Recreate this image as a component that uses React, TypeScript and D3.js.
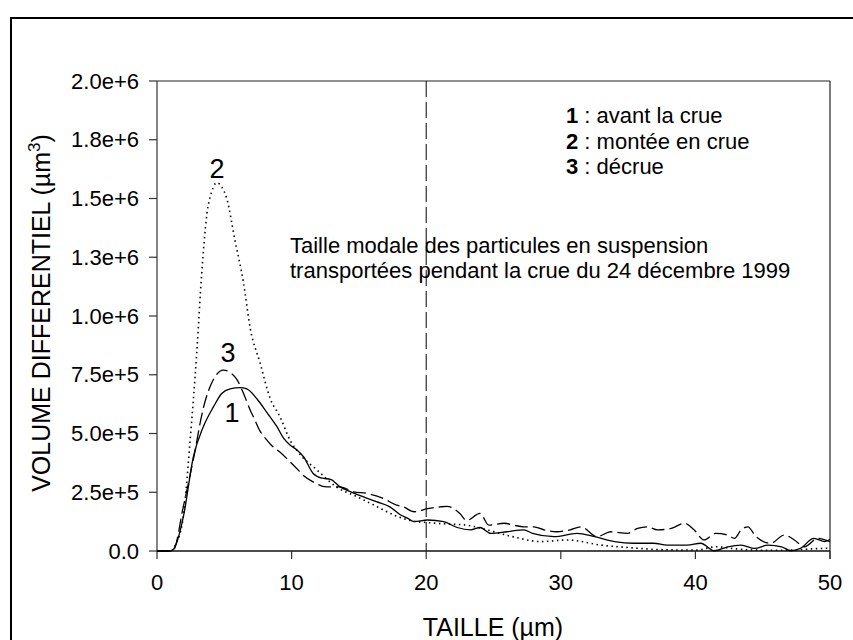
import React from 'react';
import * as d3 from 'd3';

// ---- data (values in millions of µm³) ----
const UNIT = 1e6;
const xTicks = [0, 10, 20, 30, 40, 50];
const yTicks = [0, 0.25, 0.5, 0.75, 1.0, 1.25, 1.5, 1.75, 2.0];
const yTickLabels = ['0.0', '2.5e+5', '5.0e+5', '7.5e+5', '1.0e+6', '1.3e+6', '1.5e+6', '1.8e+6', '2.0e+6'];
const modalSize = 20;

// 1 : avant la crue (solid)
const avantCrue: [number, number][] = [
  [0, 0], [1.0, 0], [1.34, 0.018], [1.96, 0.146], [2.7, 0.40], [3.45, 0.53], [4.19, 0.613], [4.81, 0.67],
  [5.43, 0.69], [6.18, 0.695], [6.67, 0.69], [7.42, 0.648], [8.16, 0.59], [8.9, 0.53], [9.4, 0.48], [9.9, 0.45],
  [10.4, 0.43], [10.9, 0.40], [11.6, 0.33], [12.25, 0.31], [12.9, 0.305], [13.6, 0.273], [14.4, 0.252], [15.35, 0.23],
  [16.3, 0.21], [17.3, 0.188], [18.1, 0.153], [18.6, 0.14], [19.1, 0.125], [20.1, 0.132], [21.3, 0.125], [22.3, 0.10],
  [23.3, 0.09], [24.0, 0.10], [24.8, 0.075], [26.0, 0.082], [27.25, 0.09], [27.9, 0.075], [29.5, 0.061], [31.2, 0.075],
  [32.5, 0.061], [34.0, 0.04], [35.4, 0.033], [36.9, 0.033], [37.9, 0.025], [39.4, 0.025], [40.4, 0.033], [41.4, 0.001],
  [42.4, 0.018], [43.4, 0.025], [44.4, 0.011], [45.4, 0.025], [46.4, 0.018], [47.1, 0.001], [47.8, 0.011], [48.8, 0.054],
  [49.6, 0.04], [50, 0.05],
];

// 2 : montée en crue (dotted)
const monteeCrue: [number, number][] = [
  [0, 0], [1.0, 0], [1.4, 0.03], [1.95, 0.144], [2.46, 0.47], [2.95, 0.84], [3.32, 1.18], [3.7, 1.43], [4.07, 1.53],
  [4.44, 1.567], [4.8, 1.55], [5.18, 1.50], [5.8, 1.32], [6.43, 1.14], [6.92, 0.95], [7.66, 0.80], [8.4, 0.65],
  [9.15, 0.57], [9.9, 0.47], [10.5, 0.42], [11.9, 0.344], [13.4, 0.27], [14.9, 0.23], [16.3, 0.19], [17.6, 0.153],
  [18.8, 0.13], [20.3, 0.12], [21.5, 0.115], [23.0, 0.11], [24.5, 0.09], [26.5, 0.06], [28.5, 0.04], [30.5, 0.047],
  [33, 0.025], [35.4, 0.013], [36.6, 0.008], [38, 0.005], [40, 0.004], [41.6, 0.018], [42.8, 0.01], [45.3, 0.003],
  [47, 0.004], [49, 0.01], [50, 0.012],
];

// 3 : décrue (dashed)
const decrue: [number, number][] = [
  [0, 0], [1.0, 0], [1.22, 0.004], [1.96, 0.19], [2.7, 0.39], [3.45, 0.61], [4.19, 0.73], [4.93, 0.77], [5.43, 0.76],
  [5.93, 0.73], [6.43, 0.67], [6.92, 0.60], [7.17, 0.57], [7.66, 0.51], [8.04, 0.48], [8.5, 0.45], [9.15, 0.42],
  [9.77, 0.386], [10.5, 0.344], [10.9, 0.32], [11.6, 0.294], [12.6, 0.273], [13.6, 0.273], [14.6, 0.252], [15.6, 0.245],
  [16.8, 0.224], [17.8, 0.195], [18.3, 0.188], [19.1, 0.167], [20.1, 0.18], [21.05, 0.188], [21.55, 0.19], [22.5, 0.16],
  [23.0, 0.13], [24.0, 0.16], [24.65, 0.11], [25.8, 0.118], [26.5, 0.11], [27.25, 0.103], [28, 0.103], [28.75, 0.09],
  [29.7, 0.082], [30.7, 0.09], [31.5, 0.103], [32.7, 0.061], [33.7, 0.082], [34.95, 0.075], [35.7, 0.096], [36.4, 0.103],
  [37.2, 0.09], [38.2, 0.096], [39.2, 0.118], [39.9, 0.09], [40.65, 0.047], [41.5, 0.075], [42.4, 0.068], [42.9, 0.054],
  [43.4, 0.09], [43.9, 0.103], [44.5, 0.061], [45.6, 0.033], [46.6, 0.068], [47.35, 0.047], [48.1, 0.018], [49.1, 0.054],
  [50, 0.04],
];

const legendItems = [
  { num: '1', text: ' : avant la crue' },
  { num: '2', text: ' : montée en crue' },
  { num: '3', text: ' : décrue' },
];
const annotationLines = [
  'Taille modale des particules en suspension',
  'transportées pendant la crue du 24 décembre 1999',
];

const FONT = 'Arial, "Liberation Sans", Helvetica, sans-serif';

export default function App() {
  const W = 853, H = 640;
  const x = d3.scaleLinear().domain([0, 50]).range([157, 830]);
  const y = d3.scaleLinear().domain([0, 2.0 * UNIT]).range([551, 81]);

  const line = d3
    .line<[number, number]>()
    .x((d) => x(d[0]))
    .y((d) => y(d[1] * UNIT))
    .curve(d3.curveMonotoneX);

  const [x0, x1] = x.range();
  const [y0, y1] = y.range();

  return (
    <svg width={W} height={H} style={{ position: 'absolute', left: 0, top: 0, background: '#fff' }} fontFamily={FONT}>
      {/* outer frame */}
      <rect x={11} y={18} width={W + 20} height={H + 20} fill="none" stroke="#000" strokeWidth={2} />

      {/* plot frame: top and right */}
      <line x1={x0} x2={x1} y1={y1} y2={y1} stroke="#222" strokeWidth={1.2} />
      <line x1={x1} x2={x1} y1={y1} y2={y0 + 8} stroke="#222" strokeWidth={1.2} />

      {/* modal size vertical dashed line */}
      <line x1={x(modalSize)} x2={x(modalSize)} y1={y1} y2={y0} stroke="#000" strokeWidth={1} strokeDasharray="16,5" />

      {/* axes */}
      <line x1={x0} x2={x0} y1={y1} y2={y0} stroke="#333" strokeWidth={1.2} />
      <line x1={x0} x2={x1} y1={y0} y2={y0} stroke="#111" strokeWidth={1.4} />
      {yTicks.map((t, i) => (
        <g key={'yt' + i}>
          <line x1={x0 - 8} x2={x0} y1={y(t * UNIT)} y2={y(t * UNIT)} stroke="#333" strokeWidth={1.2} />
          <text x={139} y={y(t * UNIT)} dy="0.35em" textAnchor="end" fontSize={22} fill="#000">
            {yTickLabels[i]}
          </text>
        </g>
      ))}
      {xTicks.map((t, i) => (
        <g key={'xt' + i}>
          <line x1={x(t)} x2={x(t)} y1={y0} y2={y0 + 8} stroke="#333" strokeWidth={1.2} />
          <text x={x(t)} y={590} textAnchor="middle" fontSize={22} fill="#000">
            {t}
          </text>
        </g>
      ))}

      {/* axis titles */}
      <text x={493} y={636} textAnchor="middle" fontSize={25} fill="#000">TAILLE (µm)</text>
      <text transform={`translate(50,313) rotate(-90)`} textAnchor="middle" fontSize={25} fill="#000">
        VOLUME DIFFERENTIEL (µm
        <tspan dy={-10} fontSize={17}>3</tspan>
        <tspan dy={10}>)</tspan>
      </text>

      {/* curves */}
      <path d={line(avantCrue) || ''} fill="none" stroke="#000" strokeWidth={1.3} />
      <path d={line(monteeCrue) || ''} fill="none" stroke="#000" strokeWidth={1.6} strokeDasharray="1.5,3.5" />
      <path d={line(decrue) || ''} fill="none" stroke="#000" strokeWidth={1.3} strokeDasharray="13,5" />

      {/* curve labels */}
      <text x={217} y={178} textAnchor="middle" fontSize={27} fill="#000">2</text>
      <text x={228} y={362} textAnchor="middle" fontSize={27} fill="#000">3</text>
      <text x={232} y={422} textAnchor="middle" fontSize={27} fill="#000">1</text>

      {/* legend */}
      {legendItems.map((it, i) => (
        <text key={'lg' + i} x={566} y={123 + i * 25.5} fontSize={22} fill="#000">
          <tspan fontWeight="bold">{it.num}</tspan>
          {it.text}
        </text>
      ))}

      {/* annotation */}
      {annotationLines.map((l, i) => (
        <text key={'an' + i} x={290} y={253 + i * 25} fontSize={22} fill="#000">
          {l}
        </text>
      ))}
    </svg>
  );
}
